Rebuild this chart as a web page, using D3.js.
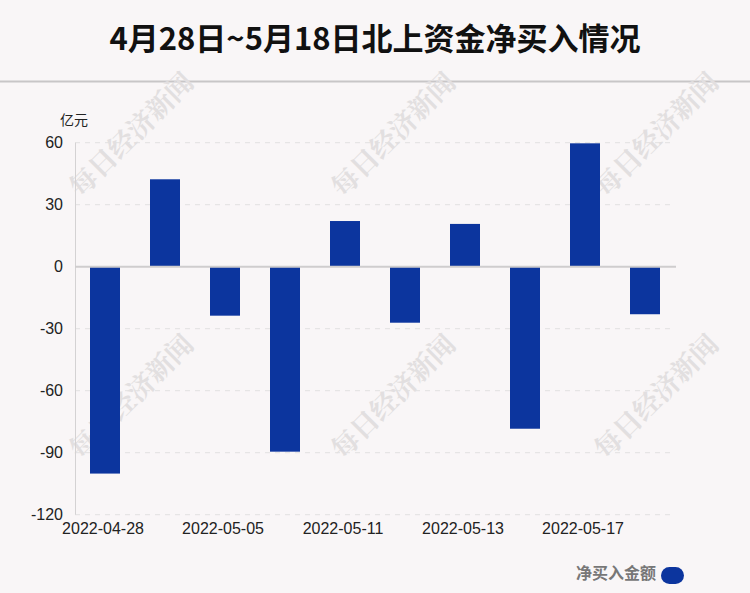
<!DOCTYPE html>
<html><head><meta charset="utf-8">
<script src="https://cdn.jsdelivr.net/npm/d3@7/dist/d3.min.js"></script>
<style>
html,body{margin:0;padding:0;background:#f9f6f7;}
svg{display:block;}
</style></head>
<body>
<script>
const categories = ["2022-04-28","2022-04-29","2022-05-05","2022-05-10","2022-05-11","2022-05-12","2022-05-13","2022-05-16","2022-05-17","2022-05-18"];
const netBuy = [-100.1, 42.3, -23.7, -89.5, 22.1, -27.1, 20.7, -78.4, 59.7, -23.0];
const yTicks = [60, 30, 0, -30, -60, -90, -120];
const titleText = "4月28日~5月18日北上资金净买入情况";
const unitText = "亿元";
const legendText = "净买入金额";
const watermarkText = "每日经济新闻";

(function () {
const W = 750, H = 593;
const svg = d3.select("body").append("svg").attr("width", W).attr("height", H);
svg.append("rect").attr("width", W).attr("height", H).attr("fill", "#f9f6f7");

const cjk = "'Noto Sans CJK SC', 'Noto Sans', sans-serif";
const latin = "'Liberation Sans', Arial, sans-serif";

// title
svg.append("text").attr("x", 375).attr("y", 50).attr("text-anchor", "middle")
  .attr("font-family", cjk).attr("font-weight", "bold").attr("font-size", 31)
  .attr("fill", "#111").text(titleText);
svg.append("line").attr("x1", 0).attr("x2", W).attr("y1", 81.5).attr("y2", 81.5)
  .attr("stroke", "#c8c6c7").attr("stroke-width", 2);

const pLeft = 75, pRight = 675, pTop = 142.7, pBottom = 514.7;
const x = d3.scaleBand().domain(categories).range([pLeft, pRight]).paddingInner(0.5).paddingOuter(0.25);
const y = d3.scaleLinear().domain([-120, 60]).range([pBottom, pTop]);

// watermarks
const wmPos = [[130,133],[392,133],[655,133],[130,395],[392,395],[655,395]];
const wm = svg.append("g");
wmPos.forEach(p => {
  wm.append("text").attr("transform", `translate(${p[0]},${p[1]}) rotate(-45)`)
    .attr("text-anchor", "middle").attr("dominant-baseline", "central")
    .attr("font-family", "'Noto Serif CJK SC','Noto Sans CJK SC',serif").attr("font-weight", "bold")
    .attr("font-size", 27).attr("fill", "#e2dfe0").text(watermarkText);
});

// grid
const grid = svg.append("g");
yTicks.filter(t => t !== 0).forEach(t => {
  grid.append("line").attr("x1", pLeft).attr("x2", 672).attr("y1", y(t)).attr("y2", y(t))
    .attr("stroke", "#e2e0e1").attr("stroke-width", 1).attr("stroke-dasharray", "5,5");
});

// y axis line
svg.append("line").attr("x1", pLeft + 0.5).attr("x2", pLeft + 0.5).attr("y1", pTop).attr("y2", pBottom)
  .attr("stroke", "#d4d2d3").attr("stroke-width", 1);

// y axis labels
const yAxis = d3.axisLeft(y).tickValues(yTicks).tickSize(0).tickPadding(12).tickFormat(d => String(d));
const yg = svg.append("g").attr("transform", `translate(${pLeft},0)`).call(yAxis);
yg.select(".domain").remove();
yg.selectAll("text").attr("font-family", latin).attr("font-size", 16).attr("fill", "#222");

svg.append("text").attr("x", 60).attr("y", 125).attr("font-family", cjk).attr("font-size", 14)
  .attr("fill", "#222").text(unitText);

// bars
svg.append("g").selectAll("rect").data(netBuy).join("rect")
  .attr("x", (d, i) => x(categories[i]))
  .attr("width", x.bandwidth())
  .attr("y", d => y(Math.max(0, d)))
  .attr("height", d => Math.abs(y(d) - y(0)))
  .attr("fill", "#0c359e");

// zero line
svg.append("line").attr("x1", pLeft).attr("x2", 676).attr("y1", y(0)).attr("y2", y(0))
  .attr("stroke", "#cfcdce").attr("stroke-width", 2);

// x axis labels
const xAxis = d3.axisBottom(x).tickValues(categories.filter((c, i) => i % 2 === 0)).tickSize(0).tickPadding(8);
const xg = svg.append("g").attr("transform", `translate(-2,${pBottom})`).call(xAxis);
xg.select(".domain").remove();
xg.selectAll("text").attr("font-family", latin).attr("font-size", 16).attr("fill", "#222");

// legend
svg.append("text").attr("x", 656).attr("y", 579).attr("text-anchor", "end")
  .attr("font-family", cjk).attr("font-weight", "bold").attr("font-size", 16)
  .attr("fill", "#777").text(legendText);
svg.append("rect").attr("x", 661).attr("y", 567).attr("width", 23).attr("height", 17)
  .attr("rx", 8.5).attr("fill", "#0c359e");
})();
</script>
</body></html>
